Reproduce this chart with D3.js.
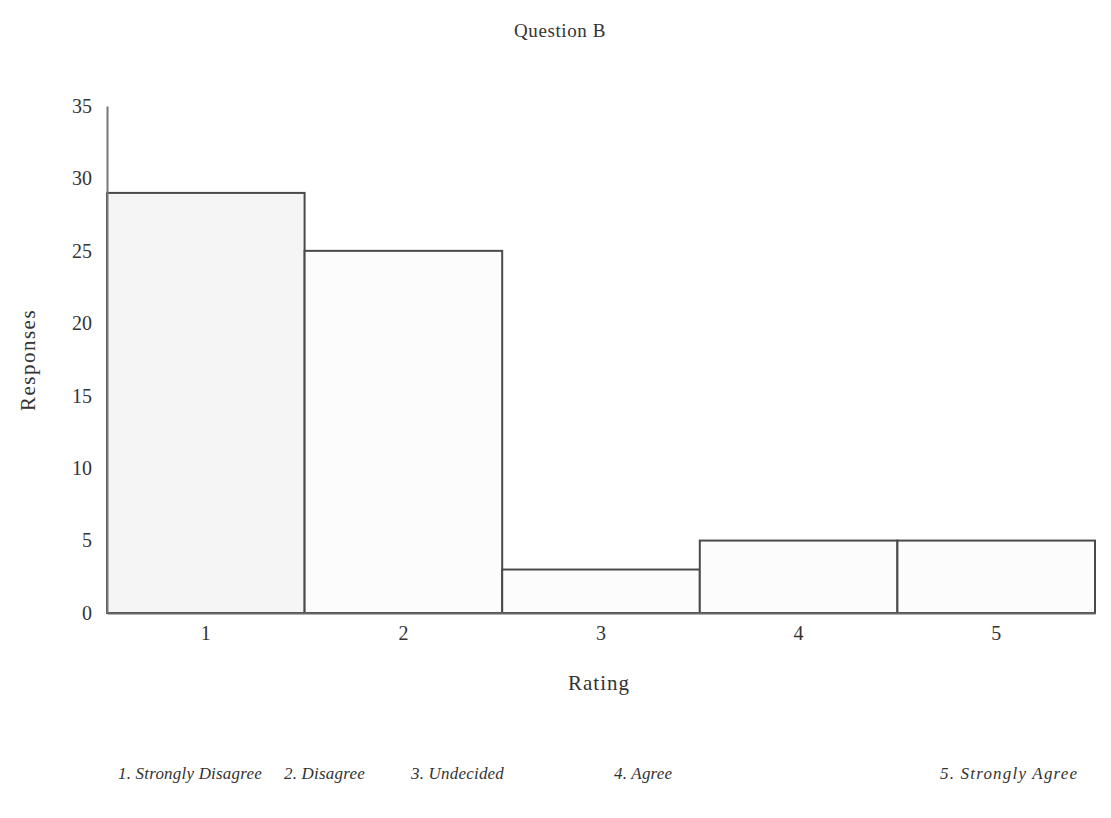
<!DOCTYPE html>
<html>
<head>
<meta charset="utf-8">
<script src="https://cdn.jsdelivr.net/npm/d3@7"></script>
<style>
  html, body { margin: 0; padding: 0; background: #fff; }
  svg { display: block; }
  text { font-family: "Liberation Serif", "DejaVu Serif", serif; fill: #333; }
</style>
</head>
<body>
<svg id="chart" width="1111" height="818"></svg>
<script>
const title = "Question B";
const categories = ["1", "2", "3", "4", "5"];
const responses = [29, 25, 3, 5, 5];
const yTicks = [0, 5, 10, 15, 20, 25, 30, 35];
const xLabel = "Rating";
const yLabel = "Responses";
const legendLabels = ["1. Strongly Disagree", "2. Disagree", "3. Undecided", "4. Agree", "5. Strongly Agree"];

const svg = d3.select("#chart");
const margin = { left: 107, right: 16, top: 106, bottom: 205 };
const W = 1111, H = 818;
const plotW = W - margin.left - margin.right;
const plotH = H - margin.top - margin.bottom;

const x = d3.scaleBand().domain(categories).range([0, plotW]).padding(0);
const y = d3.scaleLinear().domain([0, 35]).range([plotH, 0]);

const g = svg.append("g").attr("transform", `translate(${margin.left},${margin.top})`);

// title
svg.append("text").attr("x", 560).attr("y", 37).attr("text-anchor", "middle")
  .attr("font-size", 19).attr("letter-spacing", 0.6).text(title);

// bars
g.selectAll("rect.bar").data(responses).join("rect")
  .attr("class", "bar")
  .attr("x", (d, i) => x(categories[i]))
  .attr("y", d => y(d))
  .attr("width", x.bandwidth())
  .attr("height", d => y(0) - y(d))
  .attr("fill", (d, i) => i === 0 ? "#f5f5f5" : "#fcfcfc")
  .attr("stroke", "#4a4a4a")
  .attr("stroke-width", 2);

// y axis
const yAxis = d3.axisLeft(y).tickValues(yTicks).tickSize(0).tickPadding(15);
const ya = g.append("g").call(yAxis);
ya.select(".domain").attr("stroke", "#777").attr("stroke-width", 2);
ya.selectAll("text").attr("font-size", 20).attr("font-family", "Liberation Serif").attr("fill", "#333");

// x axis
const xAxis = d3.axisBottom(x).tickSize(0).tickPadding(13);
const xa = g.append("g").attr("transform", `translate(0,${plotH})`).call(xAxis);
xa.select(".domain").attr("stroke", "#666").attr("stroke-width", 2);
xa.selectAll("text").attr("font-size", 20).attr("font-family", "Liberation Serif").attr("fill", "#333");

// axis labels
svg.append("text").attr("x", margin.left + plotW / 2 - 2).attr("y", 690)
  .attr("text-anchor", "middle").attr("font-size", 21).attr("letter-spacing", 1).text(xLabel);
svg.append("text").attr("transform", "translate(35,360) rotate(-90)")
  .attr("text-anchor", "middle").attr("font-size", 21).attr("letter-spacing", 1.5).text(yLabel);

// legend text row
const legendStart = [118, 284, 411, 614, 940];
svg.selectAll("text.legend").data(legendLabels).join("text")
  .attr("class", "legend")
  .attr("x", (d, i) => legendStart[i])
  .attr("y", 779)
  .attr("font-size", 17)
  .attr("font-style", "italic")
  .attr("letter-spacing", (d, i) => i === 4 ? 1.2 : 0.2)
  .text(d => d);
</script>
</body>
</html>
